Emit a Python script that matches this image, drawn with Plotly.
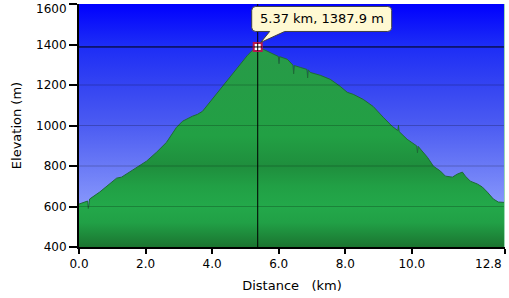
import plotly.graph_objects as go

# ---- data ----
distance_km = [0.00, 0.17, 0.26, 0.28, 0.30, 0.32, 0.62, 0.92, 1.13, 1.28, 1.43, 1.73, 2.03, 2.33,
               2.63, 2.93, 3.11, 3.41, 3.56, 3.71, 3.95, 4.19, 4.46, 4.85, 5.06, 5.24, 5.37,
               5.54, 5.75, 5.99, 6.01, 6.03, 6.26, 6.43, 6.45, 6.47, 6.65, 6.85, 6.87, 6.89,
               6.95, 7.25, 7.55, 7.85, 8.06, 8.24, 8.54, 8.84, 9.14, 9.41, 9.58, 9.60, 9.62,
               9.86, 10.15, 10.17, 10.19, 10.35, 10.47, 10.65, 10.86, 11.01, 11.22, 11.37,
               11.52, 11.61, 11.76, 11.97, 12.12, 12.27, 12.45, 12.60, 12.78, 12.80]
elevation_m = [612, 622, 627, 590, 628, 637, 671, 711, 740, 745, 760, 794, 824, 868,
               917, 991, 1021, 1046, 1055, 1070, 1120, 1169, 1223, 1307, 1346, 1376, 1387.9,
               1376, 1361, 1341, 1305, 1340, 1327, 1298, 1255, 1296, 1287, 1277, 1235, 1275,
               1262, 1248, 1228, 1193, 1164, 1154, 1129, 1094, 1041, 996, 975, 1000, 970,
               932, 899, 865, 897, 868, 843, 799, 775, 750, 745, 760,
               770, 750, 725, 711, 696, 671, 637, 622, 622, 620]

x_tick_vals = [0, 2, 4, 6, 8, 10, 12.8]
x_tick_text = ["0.0", "2.0", "4.0", "6.0", "8.0", "10.0", "12.8"]
y_tick_vals = [400, 600, 800, 1000, 1200, 1400, 1600]
y_tick_text = ["400", "600", "800", "1000", "1200", "1400", "1600"]
grid_vals = [600, 800, 1000, 1200]
x_range = [0, 12.8]
y_range = [400, 1600]

cursor_km = 5.37
cursor_m = 1387.9
cursor_label = "5.37 km, 1387.9 m"

FONT = "DejaVu Sans"

fig = go.Figure()

# plot-area background gradient (blue)
fig.add_trace(go.Scatter(
    x=[x_range[0], x_range[1], x_range[1], x_range[0], x_range[0]],
    y=[y_range[0], y_range[0], y_range[1], y_range[1], y_range[0]],
    fill="toself", mode="none", hoverinfo="skip", showlegend=False,
    fillgradient=dict(type="vertical", start=y_range[0], stop=y_range[1],
                      colorscale=[[0.0, "#a0aeff"], [0.1667, "#8898fc"], [0.3333, "#6a7af6"],
                                  [0.5, "#4c5cf2"], [0.6667, "#3444f2"], [0.8333, "#1c2cf6"],
                                  [1.0, "#0000fe"]]),
))

# elevation profile (green gradient)
fig.add_trace(go.Scatter(
    x=distance_km, y=elevation_m, fill="tozeroy", mode="lines",
    line=dict(color="#1e6a36", width=1), hoverinfo="skip", showlegend=False,
    fillgradient=dict(type="vertical", start=y_range[0], stop=1400,
                      colorscale=[[0.0, "#1b7430"], [0.12, "#21a046"], [0.2, "#23a84a"],
                                  [0.3, "#21a045"], [0.4, "#1f8e3d"], [0.55, "#22a044"],
                                  [1.0, "#289a48"]]),
))

# gridlines drawn over the fill
for g in grid_vals:
    fig.add_trace(go.Scatter(x=x_range, y=[g, g], mode="lines",
                             line=dict(color="rgba(0,0,0,0.22)", width=1),
                             hoverinfo="skip", showlegend=False))

# crosshair
fig.add_trace(go.Scatter(x=x_range, y=[cursor_m, cursor_m], mode="lines",
                         line=dict(color="black", width=1), hoverinfo="skip", showlegend=False))
fig.add_trace(go.Scatter(x=[cursor_km, cursor_km], y=y_range, mode="lines",
                         line=dict(color="black", width=1), hoverinfo="skip", showlegend=False))

# cursor marker
fig.add_trace(go.Scatter(x=[cursor_km], y=[cursor_m], mode="markers",
                         marker=dict(symbol="square", size=8, color="white",
                                     line=dict(color="#b8174f", width=2)),
                         hoverinfo="skip", showlegend=False))
fig.add_trace(go.Scatter(x=[cursor_km], y=[cursor_m], mode="markers",
                         marker=dict(symbol="cross-thin", size=6,
                                     line=dict(color="black", width=1)),
                         hoverinfo="skip", showlegend=False))

# callout bubble (pixel-sized, anchored at the cursor)
bubble = ("M -2,40.5 L 130,40.5 Q 134,40.5 134,36.5 L 134,19.5 Q 134,15.5 130,15.5 "
          "L 27,15.5 L 3,4.5 L 12,15.5 L -2,15.5 Q -6,15.5 -6,19.5 L -6,36.5 "
          "Q -6,40.5 -2,40.5 Z")
fig.add_shape(type="path", path=bubble, xref="x", yref="y",
              xsizemode="pixel", ysizemode="pixel", xanchor=cursor_km, yanchor=cursor_m,
              fillcolor="#fff9d2", line=dict(color="#404040", width=1), layer="above")
fig.add_annotation(x=cursor_km, y=cursor_m, text=cursor_label, showarrow=False,
                   xanchor="center", yanchor="middle", xshift=64, yshift=28,
                   font=dict(family=FONT, size=13, color="black"))

# right edge light line
fig.add_shape(type="line", xref="x", yref="paper", x0=x_range[1], x1=x_range[1], y0=0, y1=1,
              line=dict(color="#9ad8b4", width=2), layer="above")

# end tick labels are nudged inward so they stay inside the page (as in the reference)
fig.add_annotation(x=x_tick_vals[-1], xref="x", y=0, yref="paper", text=x_tick_text[-1],
                   showarrow=False, xanchor="right", yanchor="top", xshift=-1, yshift=-8,
                   font=dict(family=FONT, size=12, color="black"))
fig.add_annotation(x=0, xref="paper", y=y_tick_vals[-1], yref="y", text=y_tick_text[-1],
                   showarrow=False, xanchor="right", yanchor="middle", xshift=-10, yshift=-4.5,
                   font=dict(family=FONT, size=12, color="black"))
x_tick_shown = x_tick_text[:-1] + [""]
y_tick_shown = y_tick_text[:-1] + [""]

eps_x = 0.0005
eps_y = 0.05
fig.update_xaxes(range=[x_range[0], x_range[1] + eps_x], tickvals=x_tick_vals, ticktext=x_tick_shown,
                 ticks="outside", ticklen=5, tickwidth=2, tickcolor="black",
                 showline=True, linewidth=2, linecolor="black", showgrid=False, zeroline=False,
                 tickfont=dict(family=FONT, size=12, color="black"),
                 title=dict(text="Distance\u00a0\u00a0 (km)", font=dict(family=FONT, size=13, color="black"),
                            standoff=10))
fig.update_yaxes(range=[y_range[0], y_range[1] + eps_y], tickvals=y_tick_vals, ticktext=y_tick_shown,
                 ticks="outside", ticklen=8, tickwidth=2, tickcolor="black",
                 showline=True, linewidth=2, linecolor="black", showgrid=False, zeroline=False,
                 tickfont=dict(family=FONT, size=12, color="black"),
                 title=dict(text="Elevation (m)", font=dict(family=FONT, size=13, color="black"),
                            standoff=12))

fig.update_layout(width=509, height=298, margin=dict(l=79, r=4, t=4, b=51),
                  paper_bgcolor="white", plot_bgcolor="white", showlegend=False)

fig.write_html("out.html")
